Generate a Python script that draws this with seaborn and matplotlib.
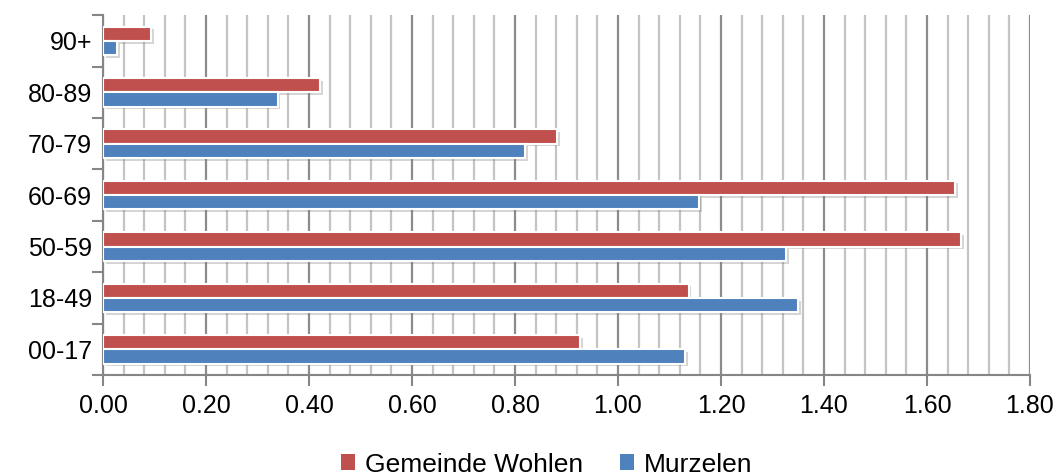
import pandas as pd
import seaborn as sns
import matplotlib.pyplot as plt
import matplotlib.patheffects as pe
from matplotlib.patches import Patch
from matplotlib.ticker import MultipleLocator, FixedLocator

# Daten (von oben nach unten)
age_groups = ['90+', '80-89', '70-79', '60-69', '50-59', '18-49', '00-17']
wohlen = [0.094, 0.422, 0.882, 1.655, 1.667, 1.137, 0.927]
murzelen = [0.027, 0.339, 0.819, 1.157, 1.327, 1.350, 1.130]
series_names = ['Gemeinde Wohlen', 'Murzelen']
colors = ['#C0504D', '#4F81BD']
x_ticks = [0.0, 0.2, 0.4, 0.6, 0.8, 1.0, 1.2, 1.4, 1.6, 1.8]

df = pd.DataFrame({
    'Alter': age_groups * 2,
    'Wert': wohlen + murzelen,
    'Gruppe': [series_names[0]] * len(age_groups) + [series_names[1]] * len(age_groups),
})

sns.set_theme(style='white')
plt.rcParams['font.family'] = ['Liberation Sans', 'DejaVu Sans']
plt.rcParams['text.color'] = 'black'

fig = plt.figure(figsize=(10.63, 4.75), dpi=100)
ax = fig.add_axes([0.0969, 0.2105, 0.872, 0.7575])

sns.barplot(data=df, y='Alter', x='Wert', hue='Gruppe', order=age_groups,
            hue_order=series_names, palette=colors, saturation=1, orient='h',
            width=0.56, edgecolor='white', linewidth=1.5, legend=False, ax=ax,
            zorder=3)

# Schatten unter den Balken
for p in ax.patches:
    p.set_path_effects([pe.SimplePatchShadow(offset=(2, -2), shadow_rgbFace='#777777',
                                             alpha=0.3),
                        pe.Normal()])

ax.set_xlim(0, 1.8)
ax.set_ylim(len(age_groups) - 0.5, -0.5)

# Gitterlinien
ax.xaxis.set_major_locator(FixedLocator(x_ticks))
ax.xaxis.set_minor_locator(MultipleLocator(0.04))
ax.grid(True, axis='x', which='major', color='#8c8c8c', linewidth=1.6, zorder=0)
ax.grid(True, axis='x', which='minor', color='#c4c4c4', linewidth=1.6, zorder=0)
ax.set_axisbelow(True)

ax.set_xticklabels([f'{v:.2f}' for v in x_ticks])
ax.yaxis.set_minor_locator(FixedLocator([i - 0.5 for i in range(len(age_groups) + 1)]))

ax.tick_params(axis='x', which='major', direction='out', length=8, width=1.5,
               color='#868686', labelsize=18, labelcolor='black', pad=6, bottom=True)
ax.tick_params(axis='x', which='minor', length=0)
ax.tick_params(axis='y', which='major', length=0, labelsize=18, labelcolor='black', pad=8)
ax.tick_params(axis='y', which='minor', direction='out', length=8, width=1.5,
               color='#868686', left=True)

ax.set_xlabel('')
ax.set_ylabel('')

for side in ['top', 'right']:
    ax.spines[side].set_visible(False)
for side in ['left', 'bottom']:
    ax.spines[side].set_color('#868686')
    ax.spines[side].set_linewidth(1.5)

handles = [Patch(facecolor=c, edgecolor='none') for c in colors]
fig.legend(handles, series_names, loc='center', bbox_to_anchor=(0.514, 0.022),
           ncol=2, frameon=False, fontsize=19, handlelength=0.55, handleheight=0.55,
           handletextpad=0.35, columnspacing=1.4)

fig.savefig('out.png', dpi=100)
